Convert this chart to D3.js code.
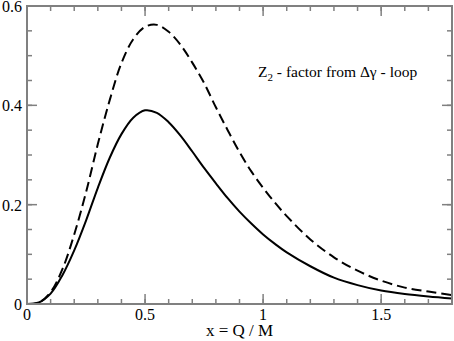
<!DOCTYPE html>
<html lang="en">
<head>
    <meta charset="utf-8">
    <title>z2 factor</title>
    <script type="text/javascript" src="https://cdnjs.cloudflare.com/ajax/libs/d3/7.8.5/d3.min.js"></script>
    <style>
        body { margin: 0; background: #fff; }
    </style>
</head>
<body>
    <script type="text/javascript">
    // values
    var xs      = [0, 0.05, 0.1, 0.15, 0.2, 0.25, 0.3, 0.35, 0.4, 0.45, 0.5, 0.55, 0.6, 0.65, 0.7, 0.75, 0.8, 0.85, 0.9, 0.95, 1.0, 1.05, 1.1, 1.2, 1.3, 1.4, 1.5, 1.6, 1.7, 1.8];
    var solidY  = [0, 0.003, 0.021, 0.058, 0.108, 0.168, 0.234, 0.294, 0.342, 0.375, 0.390, 0.385, 0.366, 0.339, 0.307, 0.274, 0.243, 0.213, 0.186, 0.162, 0.140, 0.121, 0.104, 0.076, 0.053, 0.038, 0.027, 0.020, 0.015, 0.011];
    var dashedY = [0, 0.003, 0.024, 0.070, 0.140, 0.225, 0.322, 0.410, 0.485, 0.533, 0.558, 0.562, 0.548, 0.522, 0.486, 0.445, 0.396, 0.350, 0.306, 0.267, 0.234, 0.204, 0.177, 0.130, 0.094, 0.067, 0.047, 0.033, 0.025, 0.018];
    var xTicks = [0, 0.5, 1, 1.5];
    var xTickLabels = ["0", "0.5", "1", "1.5"];
    var yTicks = [0, 0.2, 0.4, 0.6];
    var yTickLabels = ["0", "0.2", "0.4", "0.6"];
    var xMinor = d3.range(0, 1.81, 0.1);
    var yMinor = d3.range(0, 0.601, 0.05);

    var W = 454, H = 341;
    var margin = {top: 6, right: 2, bottom: 37, left: 27};
    var x0 = margin.left, x1 = W - margin.right,
        y0 = H - margin.bottom, y1 = margin.top;

    var xScale = d3.scaleLinear().domain([0, 1.8]).range([x0, x1]);
    var yScale = d3.scaleLinear().domain([0, 0.6]).range([y0, y1]);

    var serif = "'Liberation Serif', 'Times New Roman', Times, 'DejaVu Serif', serif";

    var svg = d3.select("body").append("svg")
        .attr("width", W)
        .attr("height", H)
        .attr("font-family", serif);

    var axisColor = "#808080";

    //ticks on all four sides, pointing inward
    function ticks(g, vals, len, horiz) {
        vals.forEach(function(v) {
            if (horiz) {
                var px = xScale(v);
                g.append("line").attr("x1", px).attr("x2", px).attr("y1", y0).attr("y2", y0 - len);
                g.append("line").attr("x1", px).attr("x2", px).attr("y1", y1).attr("y2", y1 + len);
            } else {
                var py = yScale(v);
                g.append("line").attr("y1", py).attr("y2", py).attr("x1", x0).attr("x2", x0 + len);
                g.append("line").attr("y1", py).attr("y2", py).attr("x1", x1).attr("x2", x1 - len);
            }
        });
    }
    var tg = svg.append("g").attr("stroke", axisColor).attr("stroke-width", 1.5);
    ticks(tg, xMinor, 5, true);
    ticks(tg, yMinor, 5, false);
    ticks(tg, xTicks, 10, true);
    ticks(tg, yTicks, 10, false);

    //curves
    var line = d3.line()
        .x(function(d) { return xScale(d[0]); })
        .y(function(d) { return yScale(d[1]); })
        .curve(d3.curveCatmullRom.alpha(0.5));

    var plot = svg.append("g");
    plot.append("path")
        .datum(xs.map(function(v, i) { return [v, dashedY[i]]; }))
        .attr("d", line)
        .attr("fill", "none")
        .attr("stroke", "#000")
        .attr("stroke-width", 2)
        .attr("stroke-dasharray", "10,5");
    plot.append("path")
        .datum(xs.map(function(v, i) { return [v, solidY[i]]; }))
        .attr("d", line)
        .attr("fill", "none")
        .attr("stroke", "#000")
        .attr("stroke-width", 2);

    //frame
    svg.append("rect")
        .attr("x", x0).attr("y", y1)
        .attr("width", x1 - x0).attr("height", y0 - y1)
        .attr("fill", "none")
        .attr("stroke", axisColor)
        .attr("stroke-width", 2);

    //tick labels
    svg.selectAll(".xlab").data(xTicks).enter().append("text")
        .attr("class", "xlab")
        .attr("x", function(d) { return xScale(d); })
        .attr("y", 320)
        .attr("text-anchor", "middle")
        .attr("font-size", 16)
        .text(function(d, i) { return xTickLabels[i]; });

    svg.selectAll(".ylab").data(yTicks).enter().append("text")
        .attr("class", "ylab")
        .attr("x", 22)
        .attr("y", function(d) { return yScale(d) + 6; })
        .attr("text-anchor", "end")
        .attr("font-size", 16)
        .text(function(d, i) { return yTickLabels[i]; });

    //axis title
    svg.append("text")
        .attr("x", (x0 + x1) / 2)
        .attr("y", 336)
        .attr("text-anchor", "middle")
        .attr("font-size", 17)
        .text("x = Q / M");

    //annotation
    var note = svg.append("text")
        .attr("x", 258)
        .attr("y", 77)
        .attr("font-size", 15.5);
    note.append("tspan").text("Z");
    note.append("tspan").attr("font-size", 11).attr("dy", 4).text("2");
    note.append("tspan").attr("dy", -4).text(" - factor from \u0394\u03b3 - loop");
    </script>
</body>
</html>
